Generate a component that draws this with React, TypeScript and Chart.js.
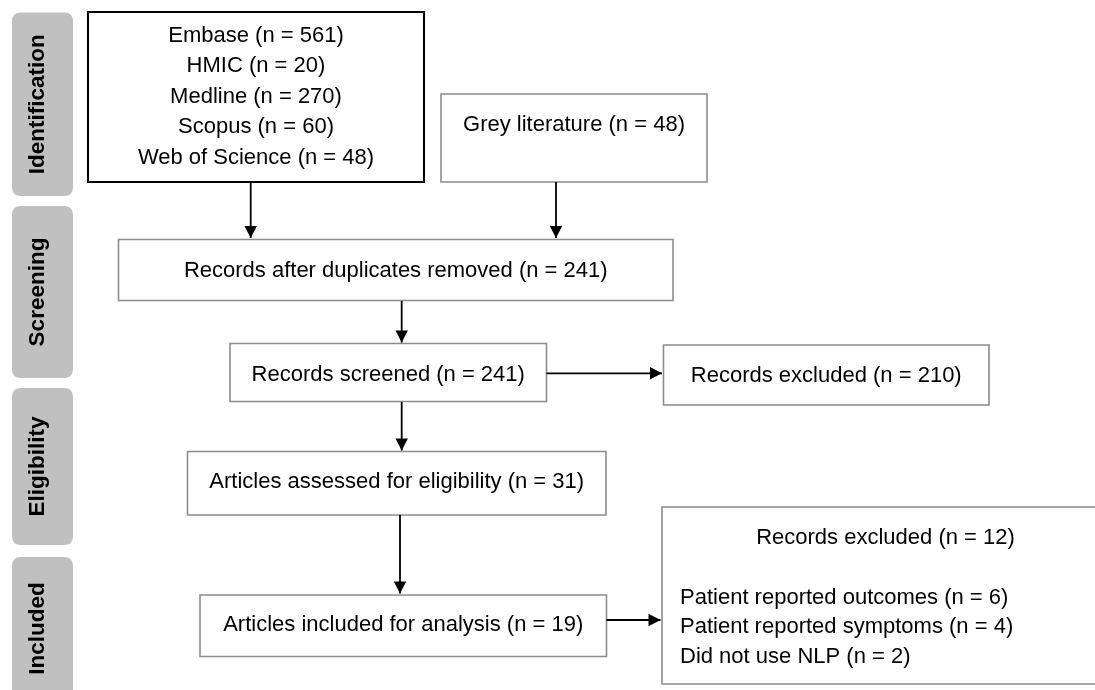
import React, { useEffect, useRef } from 'react';
import { Chart, registerables } from 'chart.js';

Chart.register(...registerables);

// ---------------- DATA ----------------
const stageLabels = ['Identification', 'Screening', 'Eligibility', 'Included'];
const databaseNames = ['Embase', 'HMIC', 'Medline', 'Scopus', 'Web of Science'];
const databaseCounts = [561, 20, 270, 60, 48];
const greyLiteratureLabel = 'Grey literature';
const greyLiteratureCount = 48;
const flowSteps = [
  'Records after duplicates removed',
  'Records screened',
  'Articles assessed for eligibility',
  'Articles included for analysis',
];
const flowCounts = [241, 241, 31, 19];
const exclusionTitles = ['Records excluded', 'Records excluded'];
const exclusionCounts = [210, 12];
const exclusionReasons = ['Patient reported outcomes', 'Patient reported symptoms', 'Did not use NLP'];
const exclusionReasonCounts = [6, 4, 2];

// ---------------- LAYOUT (scale units) ----------------
const W = 1095;
const H = 690;
const STAGE_X = [12, 73];
const STAGE_BASELINE_X = 43.5;
const stageBands = [
  [12.5, 196],
  [206, 378],
  [388, 545],
  [557, 700],
];
type Box = { x0: number; y0: number; x1: number; y1: number };
const dbBox: Box = { x0: 88, y0: 12, x1: 424, y1: 182 };
const greyBox: Box = { x0: 441, y0: 94, x1: 707, y1: 182 };
const stepBoxes: Box[] = [
  { x0: 118.5, y0: 239.5, x1: 673, y1: 300.5 },
  { x0: 230, y0: 343.5, x1: 546.5, y1: 401.5 },
  { x0: 187.5, y0: 451.5, x1: 606, y1: 515 },
  { x0: 200, y0: 595, x1: 606.5, y1: 656.5 },
];
const stepTextY = [270.8, 374.5, 482, 625.3];
const exclBoxes: Box[] = [
  { x0: 663.5, y0: 345, x1: 989, y1: 405 },
  { x0: 662, y0: 507, x1: 1109, y1: 684 },
];
const excl1TextY = 375.8;
const excl2TitlePos = { x: 885.5, y: 538.3 };
const excl2ReasonX = 680;
const excl2ReasonY = [598, 627.2, 656.7];
const dbLineY0 = 35.5;
const dbLineGap = 30.5;
const greyTextY = 125.3;

// arrows: [x1, y1, x2(tip), y2(tip)]
const arrows: number[][] = [
  [250.7, 182, 250.7, 238],
  [556, 182, 556, 238],
  [401.7, 301, 401.7, 342.5],
  [401.7, 402, 401.7, 450.5],
  [400, 515, 400, 593.5],
  [546.5, 373.3, 662, 373.3],
  [606.5, 620, 660.5, 620],
];

const FONT = '22px "Liberation Sans", Arial, Helvetica, sans-serif';
const STAGE_FONT = 'bold 22.5px "Liberation Sans", Arial, Helvetica, sans-serif';
const STAGE_FILL = '#c0c0c0';
const GREY_BORDER = '#8c8c8c';
const HEAD_LEN = 12;
const HEAD_HALF = 6.2;

function roundRectPath(ctx: CanvasRenderingContext2D, x: number, y: number, w: number, h: number, r: number) {
  ctx.beginPath();
  ctx.moveTo(x + r, y);
  ctx.lineTo(x + w - r, y);
  ctx.quadraticCurveTo(x + w, y, x + w, y + r);
  ctx.lineTo(x + w, y + h - r);
  ctx.quadraticCurveTo(x + w, y + h, x + w - r, y + h);
  ctx.lineTo(x + r, y + h);
  ctx.quadraticCurveTo(x, y + h, x, y + h - r);
  ctx.lineTo(x, y + r);
  ctx.quadraticCurveTo(x, y, x + r, y);
  ctx.closePath();
}

const flowPlugin = {
  id: 'flowchart',
  beforeDatasetsDraw(chart: any) {
    const { ctx } = chart;
    const xs = chart.scales.x;
    const ys = chart.scales.y;
    const px = (v: number) => xs.getPixelForValue(v);
    const py = (v: number) => ys.getPixelForValue(v);

    ctx.save();
    // stage labels
    stageLabels.forEach((label, i) => {
      const l = px(STAGE_X[0]);
      const r = px(STAGE_X[1]);
      const t = py(stageBands[i][0]);
      const b = py(stageBands[i][1]);
      roundRectPath(ctx, l, t, r - l, b - t, 9);
      ctx.fillStyle = STAGE_FILL;
      ctx.fill();
      ctx.save();
      const cx = (l + r) / 2;
      const cy = (t + b) / 2;
      ctx.translate(cx, cy);
      ctx.rotate(-Math.PI / 2);
      ctx.font = STAGE_FONT;
      ctx.fillStyle = '#000';
      ctx.textAlign = 'center';
      ctx.textBaseline = 'alphabetic';
      ctx.fillText(label, 0, px(STAGE_BASELINE_X) - cx);
      ctx.restore();
    });

    const drawBox = (b: Box, color: string, lw: number) => {
      ctx.beginPath();
      ctx.rect(px(b.x0), py(b.y0), px(b.x1) - px(b.x0), py(b.y1) - py(b.y0));
      ctx.fillStyle = '#fff';
      ctx.fill();
      ctx.strokeStyle = color;
      ctx.lineWidth = lw;
      ctx.stroke();
    };

    drawBox(dbBox, '#000', 2);
    drawBox(greyBox, GREY_BORDER, 1.6);
    stepBoxes.forEach((b) => drawBox(b, GREY_BORDER, 1.6));
    exclBoxes.forEach((b) => drawBox(b, GREY_BORDER, 1.6));

    ctx.font = FONT;
    ctx.fillStyle = '#000';
    ctx.textBaseline = 'middle';
    ctx.textAlign = 'center';

    const cxOf = (b: Box) => (px(b.x0) + px(b.x1)) / 2;

    databaseNames.forEach((name, i) => {
      ctx.fillText(`${name} (n = ${databaseCounts[i]})`, cxOf(dbBox), py(dbLineY0 + i * dbLineGap));
    });
    ctx.fillText(`${greyLiteratureLabel} (n = ${greyLiteratureCount})`, cxOf(greyBox), py(greyTextY));

    flowSteps.forEach((s, i) => {
      ctx.fillText(`${s} (n = ${flowCounts[i]})`, cxOf(stepBoxes[i]), py(stepTextY[i]));
    });

    ctx.fillText(`${exclusionTitles[0]} (n = ${exclusionCounts[0]})`, cxOf(exclBoxes[0]), py(excl1TextY));
    ctx.fillText(`${exclusionTitles[1]} (n = ${exclusionCounts[1]})`, px(excl2TitlePos.x), py(excl2TitlePos.y));

    ctx.textAlign = 'left';
    exclusionReasons.forEach((r, i) => {
      ctx.fillText(`${r} (n = ${exclusionReasonCounts[i]})`, px(excl2ReasonX), py(excl2ReasonY[i]));
    });
    ctx.restore();
  },
  afterDatasetsDraw(chart: any) {
    const { ctx } = chart;
    ctx.save();
    chart.data.datasets.forEach((_: any, i: number) => {
      const meta = chart.getDatasetMeta(i);
      const p0 = meta.data[0];
      const p1 = meta.data[1];
      if (!p0 || !p1) return;
      const dx = p1.x - p0.x;
      const dy = p1.y - p0.y;
      const len = Math.hypot(dx, dy) || 1;
      const ux = dx / len;
      const uy = dy / len;
      const bx = p1.x - ux * HEAD_LEN;
      const by = p1.y - uy * HEAD_LEN;
      ctx.beginPath();
      ctx.moveTo(p1.x, p1.y);
      ctx.lineTo(bx - uy * HEAD_HALF, by + ux * HEAD_HALF);
      ctx.lineTo(bx + uy * HEAD_HALF, by - ux * HEAD_HALF);
      ctx.closePath();
      ctx.fillStyle = '#000';
      ctx.fill();
    });
    ctx.restore();
  },
};

export default function App() {
  const ref = useRef<HTMLCanvasElement | null>(null);

  useEffect(() => {
    document.body.style.margin = '0';
    document.body.style.background = '#fff';
    const canvas = ref.current;
    if (!canvas) return;
    const chart = new Chart(canvas, {
      type: 'scatter',
      data: {
        datasets: arrows.map((a) => ({
          data: [
            { x: a[0], y: a[1] },
            { x: a[2], y: a[3] },
          ],
          showLine: true,
          borderColor: '#000',
          borderWidth: 1.8,
          pointRadius: 0,
          pointHoverRadius: 0,
          fill: false,
        })),
      },
      options: {
        responsive: false,
        animation: false,
        devicePixelRatio: 1,
        layout: { padding: 0 },
        events: [],
        scales: {
          x: { type: 'linear', min: 0, max: W, display: false },
          y: { type: 'linear', min: 0, max: H, reverse: true, display: false },
        },
        plugins: {
          legend: { display: false },
          tooltip: { enabled: false },
          title: { display: false },
        },
      },
      plugins: [flowPlugin],
    });
    return () => chart.destroy();
  }, []);

  return (
    <div style={{ width: W, height: H, background: '#fff' }}>
      <canvas ref={ref} width={W} height={H} style={{ display: 'block', width: W, height: H }} />
    </div>
  );
}
